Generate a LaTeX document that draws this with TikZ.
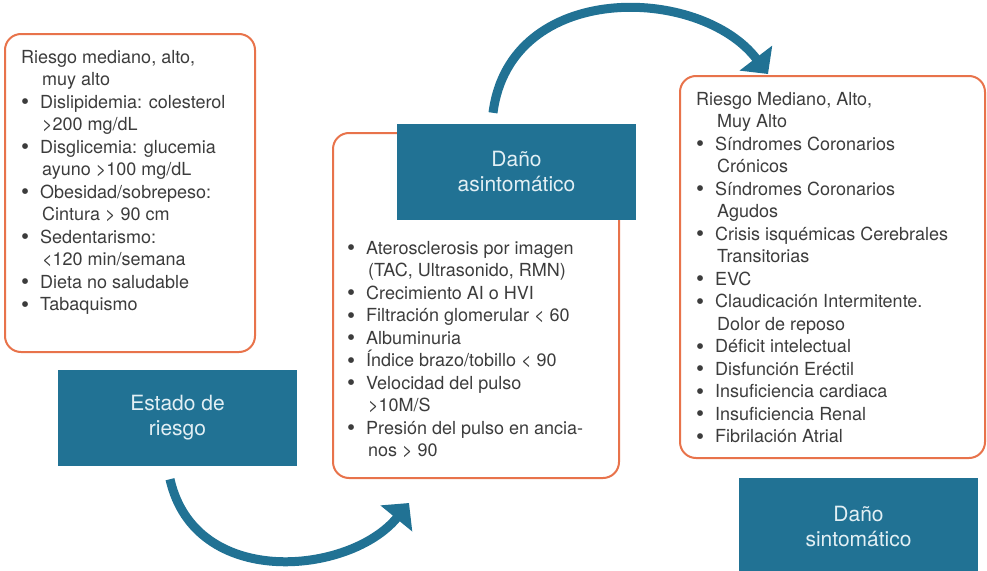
\documentclass[tikz,border=0pt]{standalone}
\usepackage{fontspec}
\setmainfont{TeX Gyre Heros}
\usetikzlibrary{positioning,arrows.meta}

\definecolor{naranja}{HTML}{E8734B}
\definecolor{azul}{HTML}{217294}
\definecolor{gristxt}{HTML}{3C3C3C}
\definecolor{claro}{HTML}{E2EFF4}

\newcommand{\vin}{\makebox[19pt][l]{\raisebox{-1.5pt}{\fontsize{23}{23}\selectfont\textbullet}}}
\newcommand{\sig}{\hspace*{21pt}}

\begin{document}
\begin{tikzpicture}[x=1pt,y=-1pt,
  caja/.style={draw=naranja, line width=2pt, rounded corners=16pt, inner sep=0pt},
  titulo/.style={fill=azul, text=claro, align=center, minimum width=239pt, minimum height=96pt, font={\fontsize{21}{25}\selectfont}},
  lista/.style={anchor=north west, align=left, inner sep=0pt, text=gristxt, font={\fontsize{18}{22.5}\selectfont}},
  flecha/.style={draw=azul, line width=9pt, -{Triangle[length=20pt,width=40pt]}}]
\useasboundingbox (0,0) rectangle (987,570);

% cajas
\node[caja, minimum width=250, minimum height=318] (factores) at (130,193) {};
\node[titulo] (riesgo) at (177.5,418) {Estado de\\riesgo};
\node[caja, minimum width=286, minimum height=345] (subclinico) at (476,305.5) {};
\node[titulo] (asinto) at (516.5,172) {Daño\\asintomático};
\node[caja, minimum width=305, minimum height=382] (clinico) at (832.5,267) {};
\node[titulo] (sinto) at (858.5,526) {Daño\\sintomático};

% textos
\node[lista] (factorestxt) at ([shift={(17,17)}]factores.north west) {Riesgo mediano, alto,\\
\sig muy alto\\
\vin Dislipidemia: colesterol\\
\sig >200 mg/dL\\
\vin Disglicemia: glucemia\\
\sig ayuno >100 mg/dL\\
\vin Obesidad/sobrepeso:\\
\sig Cintura > 90 cm\\
\vin Sedentarismo:\\
\sig <120 min/semana\\
\vin Dieta no saludable\\
\vin Tabaquismo};

\node[lista] (subclinicotxt) at ([shift={(15,109)}]subclinico.north west) {\vin Aterosclerosis por imagen\\
\sig (TAC, Ultrasonido, RMN)\\
\vin Crecimiento AI o HVI\\
\vin Filtración glomerular < 60\\
\vin Albuminuria\\
\vin Índice brazo/tobillo < 90\\
\vin Velocidad del pulso\\
\sig >10M/S\\
\vin Presión del pulso en ancia-\\
\sig nos > 90};

\node[lista] (clinicotxt) at ([shift={(17,17)}]clinico.north west) {Riesgo Mediano, Alto,\\
\sig Muy Alto\\
\vin Síndromes Coronarios\\
\sig Crónicos\\
\vin Síndromes Coronarios\\
\sig Agudos\\
\vin Crisis isquémicas Cerebrales\\
\sig Transitorias\\
\vin EVC\\
\vin Claudicación Intermitente.\\
\sig Dolor de reposo\\
\vin Déficit intelectual\\
\vin Disfunción Eréctil\\
\vin Insuficiencia cardiaca\\
\vin Insuficiencia Renal\\
\vin Fibrilación Atrial};

% flechas
\draw[flecha] ([shift={(-7.5,13)}]riesgo.south) .. controls (195,590) and (350,575) .. ([shift={(77,24)}]subclinico.south west);
\draw[flecha] ([shift={(-23.5,-11)}]asinto.north) .. controls (510,-20) and (700,-15) .. ([shift={(89,-1)}]clinico.north west);
\end{tikzpicture}
\end{document}
